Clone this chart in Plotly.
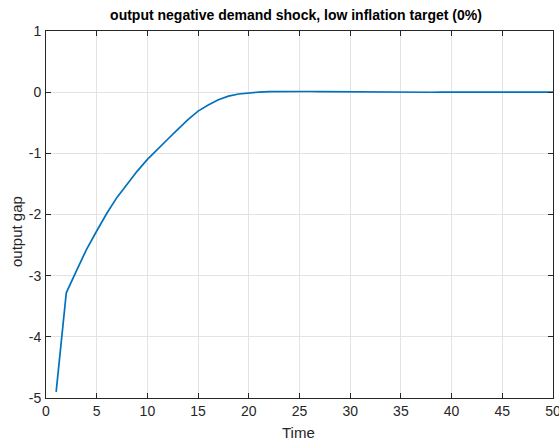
import plotly.graph_objects as go

time = list(range(1, 51))
output_gap = [-4.90, -3.28, -2.92, -2.57, -2.27, -1.98, -1.72, -1.50, -1.29, -1.10,
              -0.93, -0.77, -0.61, -0.45, -0.31, -0.21, -0.125, -0.065, -0.03, -0.01,
              0.002, 0.008, 0.011, 0.012, 0.012, 0.011, 0.010, 0.008, 0.006, 0.004,
              0.002, 0.001, 0.0, -0.001, -0.001, -0.001, -0.001, -0.001, 0.0, 0.0,
              0.0, 0.0, 0.0, 0.0, 0.0, 0.0, 0.0, 0.0, 0.0, 0.0]

x_ticks = list(range(0, 51, 5))
y_ticks = [-5, -4, -3, -2, -1, 0, 1]
y_tick_labels = ["-5", "-4", "-3", "-2", "-1", "0", "1"]

font_family = "Liberation Sans, Arial, Helvetica, sans-serif"
axis_color = "#262626"

W, H = 559, 441
ML, MR, MT, MB = 46, 6, 31, 43

fig = go.Figure()
fig.add_trace(go.Scatter(x=time, y=output_gap, mode="lines",
                         line=dict(color="#0072BD", width=1.7), showlegend=False))

axis_common = dict(showline=True, linecolor=axis_color, linewidth=1, mirror="ticks",
                   ticks="inside", ticklen=5, tickcolor=axis_color,
                   showgrid=True, gridcolor="#e3e3e3", gridwidth=1, zeroline=False,
                   automargin=False, ticklabeloverflow="allow",
                   tickfont=dict(family=font_family, size=14, color=axis_color))

fig.update_layout(
    width=W, height=H,
    margin=dict(l=ML, r=MR, t=MT, b=MB, autoexpand=False),
    paper_bgcolor="white", plot_bgcolor="white",
    title=dict(text="<b>output negative demand shock, low inflation target (0%)</b>",
               x=296 / W, xanchor="center", y=1 - 15 / H, yanchor="middle",
               font=dict(family=font_family, size=14, color="black")),
    xaxis=dict(range=[0, 50], tickvals=x_ticks, ticklabelstandoff=0, **axis_common),
    yaxis=dict(range=[-5, 1], tickvals=y_ticks, ticktext=y_tick_labels,
               ticklabelstandoff=1, **axis_common),
    annotations=[
        dict(text="Time", xref="paper", yref="paper",
             x=(298 - ML) / (W - ML - MR), y=-(432 - (H - MB)) / (H - MT - MB),
             xanchor="center", yanchor="middle", showarrow=False,
             font=dict(family=font_family, size=15, color=axis_color)),
        dict(text="output gap", xref="paper", yref="paper", textangle=-90,
             x=-(ML - 16) / (W - ML - MR), y=((H - MB) - 232) / (H - MT - MB),
             xanchor="center", yanchor="middle", showarrow=False,
             font=dict(family=font_family, size=15, color=axis_color)),
    ],
)

fig.write_html("out.html", config={"displayModeBar": False},
               post_script="document.body.style.margin='0px';document.body.style.overflow='hidden';")
